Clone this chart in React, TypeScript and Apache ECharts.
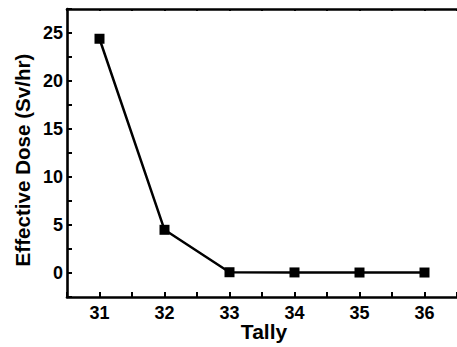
import React, { useEffect, useRef } from "react";
import * as echarts from "echarts";

const tallies = [31, 32, 33, 34, 35, 36];
const doses = [24.4, 4.5, 0.08, 0.06, 0.05, 0.05];
const yLabelStep = 5;
const xLabelStep = 1;
const xTitle = "Tally";
const yTitle = "Effective Dose (Sv/hr)";

const FONT = "'Liberation Sans', Arial, sans-serif";

export default function App() {
  const ref = useRef<HTMLDivElement>(null);
  useEffect(() => {
    document.body.style.margin = "0";
    const chart = echarts.init(ref.current!, null, { renderer: "svg" });
    const black = "#000";
    const labelStyle = { color: black, fontFamily: FONT, fontWeight: "bold" as const, fontSize: 18 };
    const isMult = (v: number, s: number) => Math.abs(v / s - Math.round(v / s)) < 1e-6;
    chart.setOption({
      animation: false,
      backgroundColor: "#fff",
      grid: { left: 67, right: 0, top: 9, bottom: 50, outerBoundsMode: "none", containLabel: false },
      graphic: [
        {
          type: "text",
          x: 264,
          y: 331,
          style: {
            text: xTitle,
            fill: black,
            font: `bold 21px ${FONT}`,
            textAlign: "center",
            textVerticalAlign: "middle",
          },
        },
        {
          type: "text",
          x: 22.5,
          y: 160,
          rotation: Math.PI / 2,
          style: {
            text: yTitle,
            fill: black,
            font: `bold 20.6px ${FONT}`,
            textAlign: "center",
            textVerticalAlign: "middle",
          },
        },
      ],
      xAxis: [
        {
          type: "value",
          min: 30.5,
          max: 36.5,
          interval: 0.5,
          position: "bottom",
          axisLine: { show: true, onZero: false, lineStyle: { color: black, width: 2.6 } },
          axisTick: { show: true, inside: true, length: 5, lineStyle: { color: black, width: 2 } },
          axisLabel: {
            ...labelStyle,
            margin: 7,
            showMinLabel: true,
            showMaxLabel: true,
            formatter: (v: number) => (isMult(v, xLabelStep) ? String(Math.round(v)) : ""),
          },
          splitLine: { show: false },
        },
        {
          type: "value",
          min: 30.5,
          max: 36.5,
          interval: 0.5,
          position: "top",
          axisLine: { show: true, onZero: false, lineStyle: { color: black, width: 2.6 } },
          axisTick: { show: true, inside: true, length: 2, lineStyle: { color: black, width: 2 } },
          axisLabel: { show: false },
          splitLine: { show: false },
        },
      ],
      yAxis: [
        {
          type: "value",
          min: -2.5,
          max: 27.5,
          interval: 2.5,
          position: "left",
          axisLine: { show: true, onZero: false, lineStyle: { color: black, width: 2.6 } },
          axisTick: { show: true, inside: true, length: 5, lineStyle: { color: black, width: 2 } },
          axisLabel: {
            ...labelStyle,
            margin: 4,
            formatter: (v: number) => (isMult(v, yLabelStep) && v >= 0 && v <= 25 ? String(Math.round(v)) : ""),
          },
          splitLine: { show: false },
        },
        {
          type: "value",
          min: -2.5,
          max: 27.5,
          interval: 2.5,
          position: "right",
          axisLine: { show: true, onZero: false, lineStyle: { color: "#e4e4e4", width: 1 } },
          axisTick: { show: false },
          axisLabel: { show: false },
          splitLine: { show: false },
        },
      ],
      series: [
        {
          type: "line",
          xAxisIndex: 0,
          yAxisIndex: 0,
          data: tallies.map((t, i) => [t, doses[i]]),
          symbol: "rect",
          symbolSize: 10,
          itemStyle: { color: black },
          lineStyle: { color: black, width: 2.5 },
        },
      ],
    });
    return () => chart.dispose();
  }, []);
  return <div ref={ref} style={{ width: 457, height: 347 }} />;
}
